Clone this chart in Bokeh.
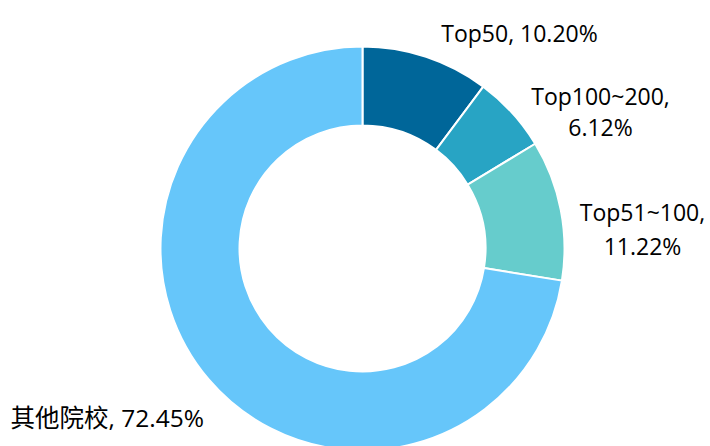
import math
from bokeh.plotting import figure
from bokeh.models import Range1d
from bokeh.core.properties import value
from bokeh.embed import file_html
from bokeh.resources import INLINE

# ---- data ----
categories = ["Top50", "Top100~200", "Top51~100", "其他院校"]
shares = [10.20, 6.12, 11.22, 72.45]
colors = ["#006699", "#28a4c4", "#66cccc", "#66c6fa"]

# ---- layout (screen-style coordinates, y measured from top of the page) ----
W, H = 710, 446
center = (362, 248)
r_outer, r_inner = 202, 123
# label anchor x, baselines (one per line), alignment, font size
label_layout = [
    (519, [32], "center", "23px"),
    (600, [95, 126.5], "center", "23px"),
    (642, [211.5, 245], "center", "23px"),
    (10, [417], "left", "24.5px"),
]
FONT = "'Open Sans', 'Noto Sans CJK SC', sans-serif"

def fy(screen_y):
    return H - screen_y

p = figure(width=W, height=H, x_range=Range1d(0, W), y_range=Range1d(0, H),
           output_backend="svg", toolbar_location=None, min_border=0,
           x_axis_type=None, y_axis_type=None)
p.grid.visible = False
p.outline_line_color = None
p.background_fill_color = "white"
p.border_fill_color = "white"

total = sum(shares)
cum = 0.0
for cat, val, col in zip(categories, shares, colors):
    start = math.pi / 2 - 2 * math.pi * cum / total
    cum += val
    end = math.pi / 2 - 2 * math.pi * cum / total
    p.annular_wedge(x=center[0], y=fy(center[1]), inner_radius=r_inner, outer_radius=r_outer,
                    start_angle=start, end_angle=end, direction="clock",
                    fill_color=col, line_color="white", line_width=2)

for cat, val, (lx, baselines, align, fs) in zip(categories, shares, label_layout):
    full = f"{cat}, {val:.2f}%"
    lines = [full] if len(baselines) == 1 else [f"{cat},", f"{val:.2f}%"]
    for line, by in zip(lines, baselines):
        p.text(x=[lx], y=[fy(by)], text=[line], text_align=align, text_baseline="alphabetic",
               text_font=value(FONT), text_font_size=fs, text_color="#000000")

open("out.html", "w").write(file_html(p, INLINE))
